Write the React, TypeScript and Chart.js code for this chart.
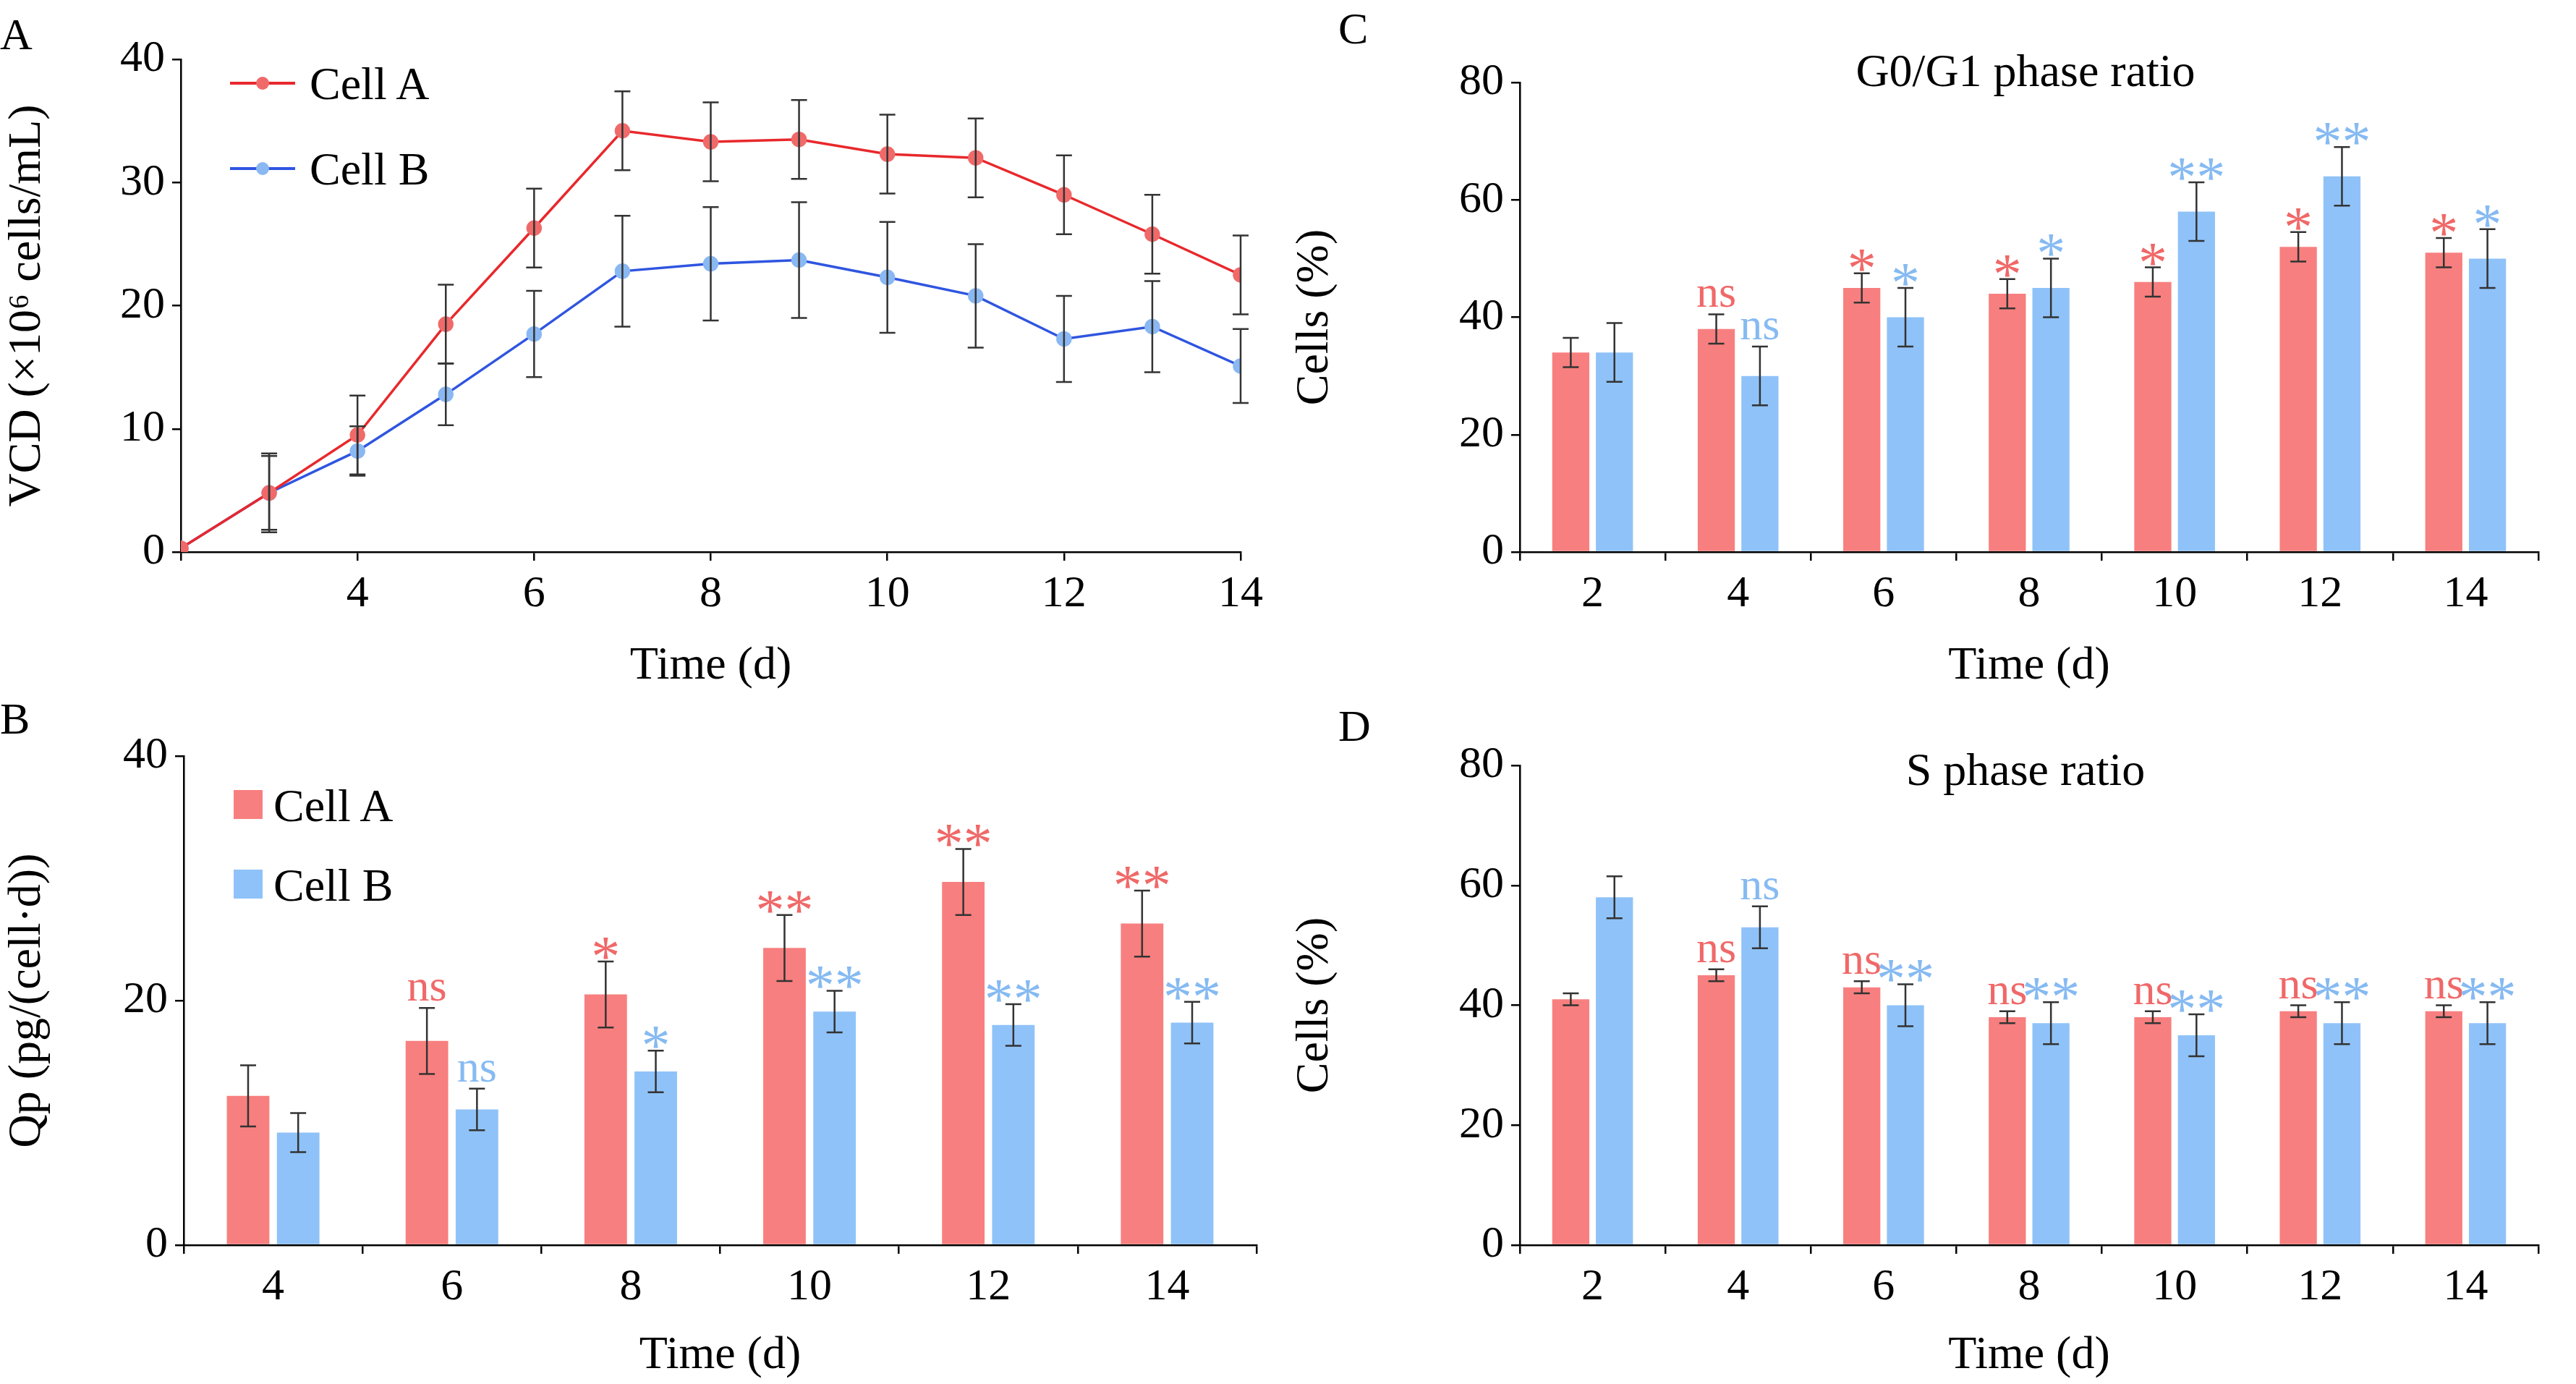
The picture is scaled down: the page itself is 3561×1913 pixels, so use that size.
import React, { useEffect, useRef } from "react";
import { Chart, registerables } from "chart.js";
Chart.register(...registerables);

const FONT = "'Liberation Serif', 'Times New Roman', serif";
const RED_LINE = "#e8282c";
const BLUE_LINE = "#2f55e0";
const RED_PT = "#f06a6a";
const BLUE_PT = "#8ab8f2";
const RED_BAR = "#f87f7f";
const BLUE_BAR = "#8fc2f8";
const RED_TXT = "#f06868";
const BLUE_TXT = "#86baf2";

// Panel A
const daysA = [2, 3, 4, 5, 6, 7, 8, 9, 10, 11, 12, 13, 14];
const vcdA = [0.3, 4.8, 9.5, 18.5, 26.3, 34.2, 33.3, 33.5, 32.3, 32.0, 29.0, 25.8, 22.5];
const vcdAErr = [0, 3.2, 3.2, 3.2, 3.2, 3.2, 3.2, 3.2, 3.2, 3.2, 3.2, 3.2, 3.2];
const vcdB = [0.3, 4.8, 8.2, 12.8, 17.7, 22.8, 23.4, 23.7, 22.3, 20.8, 17.3, 18.3, 15.1];
const vcdBErr = [0, 3.0, 2.0, 2.5, 3.5, 4.5, 4.6, 4.7, 4.5, 4.2, 3.5, 3.7, 3.0];

// Panel B
const catsB = ["4", "6", "8", "10", "12", "14"];
const qpA = [12.2, 16.7, 20.5, 24.3, 29.7, 26.3];
const qpAErr = [2.5, 2.7, 2.7, 2.7, 2.7, 2.7];
const qpB = [9.2, 11.1, 14.2, 19.1, 18.0, 18.2];
const qpBErr = [1.6, 1.7, 1.7, 1.7, 1.7, 1.7];
const qpASig = ["", "ns", "*", "**", "**", "**"];
const qpBSig = ["", "ns", "*", "**", "**", "**"];

// Panel C
const catsCD = ["2", "4", "6", "8", "10", "12", "14"];
const g1A = [34, 38, 45, 44, 46, 52, 51];
const g1AErr = [2.5, 2.5, 2.5, 2.5, 2.5, 2.5, 2.5];
const g1B = [34, 30, 40, 45, 58, 64, 50];
const g1BErr = [5, 5, 5, 5, 5, 5, 5];
const g1ASig = ["", "ns", "*", "*", "*", "*", "*"];
const g1BSig = ["", "ns", "*", "*", "**", "**", "*"];

// Panel D
const sA = [41, 45, 43, 38, 38, 39, 39];
const sAErr = [1, 1, 1, 1, 1, 1, 1];
const sB = [58, 53, 40, 37, 35, 37, 37];
const sBErr = [3.5, 3.5, 3.5, 3.5, 3.5, 3.5, 3.5];
const sASig = ["", "ns", "ns", "ns", "ns", "ns", "ns"];
const sBSig = ["", "ns", "**", "**", "**", "**", "**"];

const errPlugin = {
  id: "errbars",
  afterDatasetsDraw(chart: any) {
    const ctx = chart.ctx;
    const ys = chart.scales.y;
    chart.data.datasets.forEach((ds: any, i: number) => {
      const meta = chart.getDatasetMeta(i);
      meta.data.forEach((el: any, j: number) => {
        const e = ds.err ? ds.err[j] : 0;
        const v = ds.data[j];
        const yv = typeof v === "object" ? v.y : v;
        let topY = ys.getPixelForValue(yv);
        if (e) {
          const y1 = ys.getPixelForValue(yv + e);
          const y2 = ys.getPixelForValue(yv - e);
          topY = y1;
          ctx.save();
          ctx.strokeStyle = "#333";
          ctx.lineWidth = 2.5;
          ctx.beginPath();
          ctx.moveTo(el.x, y1); ctx.lineTo(el.x, y2);
          ctx.moveTo(el.x - 11, y1); ctx.lineTo(el.x + 11, y1);
          ctx.moveTo(el.x - 11, y2); ctx.lineTo(el.x + 11, y2);
          ctx.stroke();
          ctx.restore();
        }
        const s = ds.sig ? ds.sig[j] : "";
        if (s) {
          ctx.save();
          ctx.fillStyle = ds.sigColor;
          ctx.textAlign = "center";
          ctx.textBaseline = "alphabetic";
          if (s === "ns") {
            ctx.font = `62px ${FONT}`;
            ctx.fillText(s, el.x, topY - 10);
          } else {
            ctx.font = `80px ${FONT}`;
            ctx.fillText(s, el.x, topY + 20);
          }
          ctx.restore();
        }
      });
    });
  },
};

type Box = { left: number; top: number; w: number; h: number; pl: number; pt: number; pr: number; pb: number };

function axisCommon() {
  return {
    grid: { drawOnChartArea: false, drawTicks: true, tickLength: 12, color: "#000", lineWidth: 2.5 },
    border: { color: "#000", width: 2.5 },
    ticks: { color: "#000", font: { family: FONT, size: 62 }, padding: 10 },
  };
}

function buildConfig(kind: string, box: Box): any {
  const yW = box.pl - box.left;
  const xH = box.top + box.h - box.pb;
  const pad = { top: box.pt - box.top, right: box.left + box.w - box.pr, left: 0, bottom: 0 };
  const title = (t: string) => ({ display: true, text: t, color: "#000", font: { family: FONT, size: 64 }, padding: { top: 0, bottom: 0 } });
  const yAxis = (max: number, step: number, label: string) => ({
    ...axisCommon(),
    min: 0, max,
    ticks: { ...axisCommon().ticks, stepSize: step },
    title: { ...title(label), padding: { top: 0, bottom: 0 } },
    afterFit: (s: any) => { s.width = yW; },
  });
  const xFit = (s: any) => { s.height = xH; };
  const base = {
    animation: false, responsive: false, maintainAspectRatio: false,
    layout: { padding: pad },
    plugins: { legend: { display: false }, tooltip: { enabled: false } },
  };
  if (kind === "A") {
    const mk = (vals: number[], err: number[], line: string, pt: string) => ({
      data: daysA.map((d, i) => ({ x: d, y: vals[i] })), err,
      borderColor: line, backgroundColor: pt, pointBackgroundColor: pt, pointBorderColor: pt,
      borderWidth: 3.5, pointRadius: 9,
    });
    return {
      type: "line",
      data: { datasets: [mk(vcdA, vcdAErr, RED_LINE, RED_PT), mk(vcdB, vcdBErr, BLUE_LINE, BLUE_PT)] },
      options: {
        ...base,
        scales: {
          x: { ...axisCommon(), type: "linear", min: 2, max: 14,
            ticks: { ...axisCommon().ticks, stepSize: 2, callback: (v: number) => (v === 2 ? "" : String(v)) },
            title: title("Time (d)"), afterFit: xFit },
          y: yAxis(40, 10, "VCD (×10⁶ cells/mL)"),
        },
      },
      plugins: [errPlugin],
    };
  }
  let cats: string[], a: number[], ae: number[], b: number[], be: number[], as: string[], bs: string[], max: number, step: number, yl: string, cp: number;
  if (kind === "B") { cats = catsB; a = qpA; ae = qpAErr; b = qpB; be = qpBErr; as = qpASig; bs = qpBSig; max = 40; step = 20; yl = "Qp (pg/(cell·d))"; cp = 0.56; }
  else if (kind === "C") { cats = catsCD; a = g1A; ae = g1AErr; b = g1B; be = g1BErr; as = g1ASig; bs = g1BSig; max = 80; step = 20; yl = "Cells (%)"; cp = 0.6; }
  else { cats = catsCD; a = sA; ae = sAErr; b = sB; be = sBErr; as = sASig; bs = sBSig; max = 80; step = 20; yl = "Cells (%)"; cp = 0.6; }
  return {
    type: "bar",
    data: {
      labels: cats,
      datasets: [
        { data: a, err: ae, sig: as, sigColor: RED_TXT, backgroundColor: RED_BAR, categoryPercentage: cp, barPercentage: 0.85 },
        { data: b, err: be, sig: bs, sigColor: BLUE_TXT, backgroundColor: BLUE_BAR, categoryPercentage: cp, barPercentage: 0.85 },
      ],
    },
    options: {
      ...base,
      scales: {
        x: { ...axisCommon(), title: title("Time (d)"), afterFit: xFit },
        y: yAxis(max, step, yl),
      },
    },
    plugins: [errPlugin],
  };
}

function Panel({ kind, box }: { kind: string; box: Box }) {
  const ref = useRef<HTMLCanvasElement>(null);
  useEffect(() => {
    const c = new Chart(ref.current as HTMLCanvasElement, buildConfig(kind, box));
    return () => c.destroy();
  }, []);
  return (
    <canvas ref={ref} width={box.w} height={box.h}
      style={{ position: "absolute", left: box.left, top: box.top, width: box.w, height: box.h }} />
  );
}

const txt = (s: string, x: number, y: number, size: number, extra: any = {}) => (
  <div style={{ position: "absolute", left: x, top: y, fontFamily: FONT, fontSize: size, color: "#000", lineHeight: 1, whiteSpace: "nowrap", ...extra }}>{s}</div>
);

function LegendLine({ x, y, line, pt, label }: any) {
  return (
    <div style={{ position: "absolute", left: x, top: y, width: 600, height: 70 }}>
      <div style={{ position: "absolute", left: 0, top: 33, width: 90, height: 4, background: line }} />
      <div style={{ position: "absolute", left: 36, top: 26, width: 18, height: 18, borderRadius: 9, background: pt }} />
      {txt(label, 110, 4, 64)}
    </div>
  );
}

function LegendBox({ x, y, color, label }: any) {
  return (
    <div style={{ position: "absolute", left: x, top: y, width: 600, height: 70 }}>
      <div style={{ position: "absolute", left: 0, top: 14, width: 40, height: 40, background: color }} />
      {txt(label, 55, 4, 64)}
    </div>
  );
}

export default function App() {
  useEffect(() => { document.body.style.margin = "0"; }, []);
  return (
    <div style={{ position: "relative", width: 3561, height: 1913, background: "#fff", overflow: "hidden" }}>
      <Panel kind="A" box={{ left: 0, top: 0, w: 1780, h: 960, pl: 250, pt: 82, pr: 1715, pb: 763 }} />
      <Panel kind="B" box={{ left: 0, top: 960, w: 1780, h: 953, pl: 254, pt: 1045, pr: 1737, pb: 1721 }} />
      <Panel kind="C" box={{ left: 1780, top: 0, w: 1781, h: 960, pl: 2101, pt: 114, pr: 3509, pb: 763 }} />
      <Panel kind="D" box={{ left: 1780, top: 960, w: 1781, h: 953, pl: 2101, pt: 1058, pr: 3509, pb: 1721 }} />
      {txt("A", 0, 16, 62)}
      {txt("B", 0, 962, 62)}
      {txt("C", 1850, 8, 62)}
      {txt("D", 1850, 972, 62)}
      {txt("G0/G1 phase ratio", 2800, 66, 64, { transform: "translateX(-50%)" })}
      {txt("S phase ratio", 2800, 1032, 64, { transform: "translateX(-50%)" })}
      <LegendLine x={318} y={80} line={RED_LINE} pt={RED_PT} label="Cell A" />
      <LegendLine x={318} y={198} line={BLUE_LINE} pt={BLUE_PT} label="Cell B" />
      <LegendBox x={323} y={1078} color={RED_BAR} label="Cell A" />
      <LegendBox x={323} y={1188} color={BLUE_BAR} label="Cell B" />
    </div>
  );
}
